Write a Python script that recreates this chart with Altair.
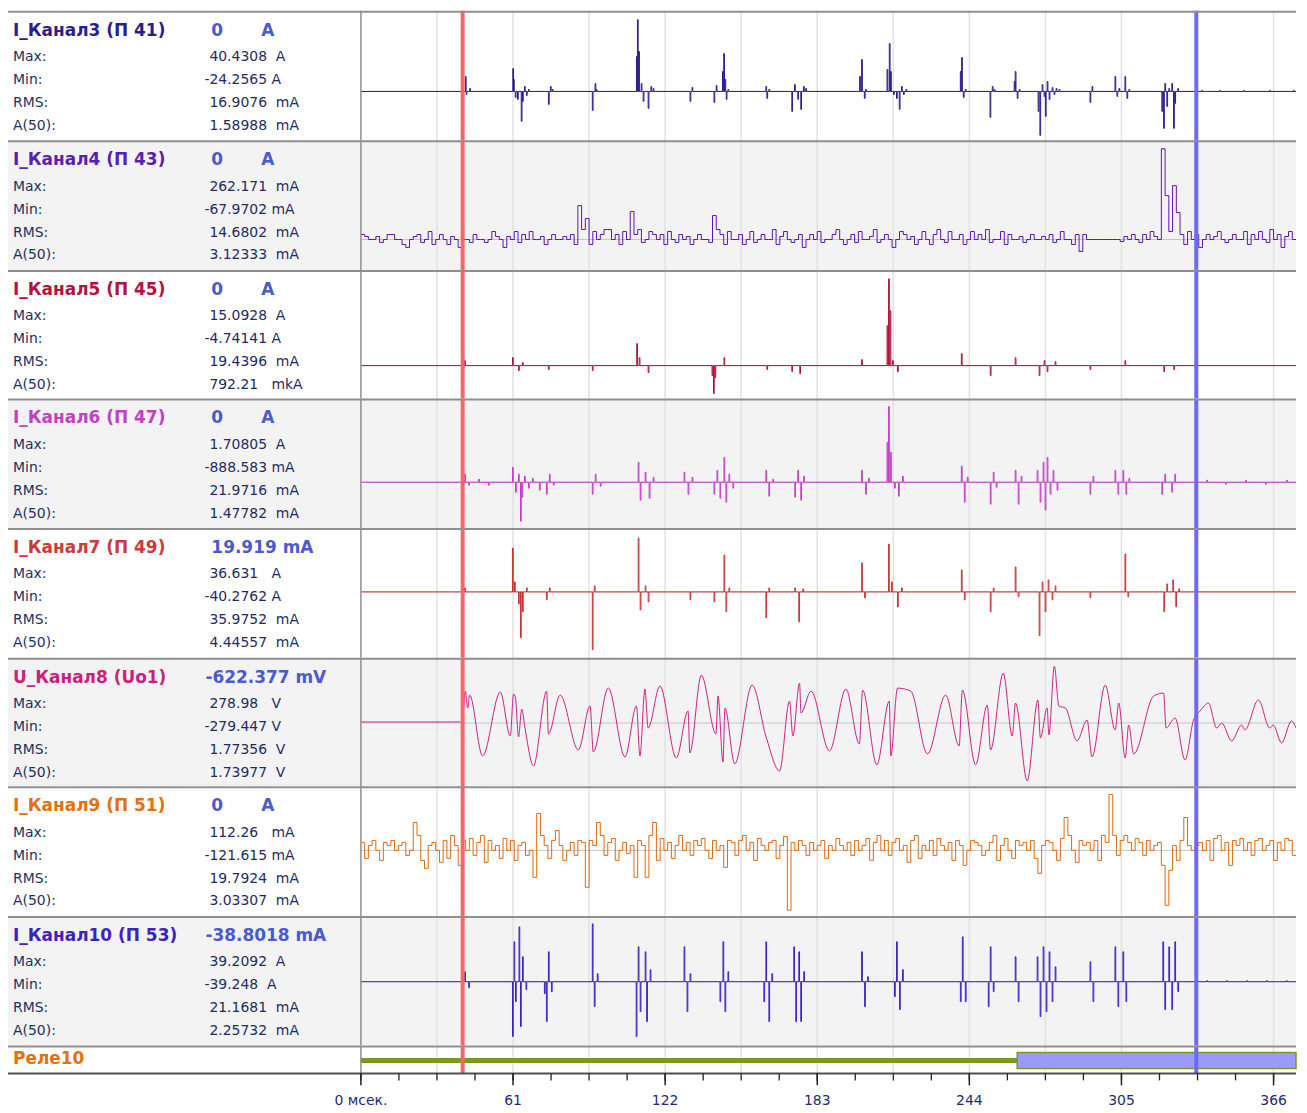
import altair as alt
import pandas as pd

# ---------------- layout constants ----------------
T_MAX = 375.0
W_INFO, W_PLOT, H_RELAY = 354, 938, 28
W_ALL = W_INFO + W_PLOT
H_ROWS = [130, 130, 129, 130, 130, 129, 130, 130]
BASE_OFF = [81, 99.5, 96, 84, 64, 65.5, 64.3, 66]   # zero-line position from panel top
FONT = "DejaVu Sans"

# ---------------- text data ----------------
NAMES = ["I_Канал3 (П 41)", "I_Канал4 (П 43)", "I_Канал5 (П 45)", "I_Канал6 (П 47)",
         "I_Канал7 (П 49)", "U_Канал8 (Uo1)", "I_Канал9 (П 51)", "I_Канал10 (П 53)"]
HEAD_NUM = ["0", "0", "0", "0", "19.919", "-622.377", "0", "-38.8018"]
HEAD_UNIT = ["A", "A", "A", "A", "mA", "mV", "A", "mA"]
STAT_LABELS = ["Max:", "Min:", "RMS:", "A(50):"]
MAX_TXT = ["40.4308  A", "262.171  mA", "15.0928  A", "1.70805  A",
           "36.631   A", "278.98   V", "112.26   mA", "39.2092  A"]
MIN_TXT = ["-24.2565 A", "-67.9702 mA", "-4.74141 A", "-888.583 mA",
           "-40.2762 A", "-279.447 V", "-121.615 mA", "-39.248  A"]
RMS_TXT = ["16.9076  mA", "14.6802  mA", "19.4396  mA", "21.9716  mA",
           "35.9752  mA", "1.77356  V", "19.7924  mA", "21.1681  mA"]
A50_TXT = ["1.58988  mA", "3.12333  mA", "792.21   mkA", "1.47782  mA",
           "4.44557  mA", "1.73977  V", "3.03307  mA", "2.25732  mA"]
RELAY_NAME = "Реле10"

TITLE_COLORS = ["#2b1f8f", "#5b1fb0", "#b5123f", "#c23fc6", "#cc3a3a", "#cf1f7d", "#e4700f", "#3b22c2"]
LINE_COLORS = ["#2a1a8c", "#5a14b8", "#b01038", "#c43ac8", "#c83232", "#d02080", "#e06810", "#3a1ec8"]
BG = ["#ffffff", "#f3f3f3", "#ffffff", "#f3f3f3", "#ffffff", "#f3f3f3", "#ffffff", "#f3f3f3"]

# ---------------- time axis data ----------------
GRID_T = [30.5 * k for k in range(1, 13)]
MINOR_T = [15.25 * k for k in range(0, 25)]
MAJOR_T = [0, 61, 122, 183, 244, 305, 366]
MAJOR_LABELS = ["0 мсек.", "61", "122", "183", "244", "305", "366"]
CURSOR_RED = 40.8
CURSOR_BLUE = 335.0
RELAY_T0 = [0.0, 263.2]
RELAY_T1 = [263.2, 375.0]
RELAY_STATE = [0, 1]

# ---------------- signal data (relative amplitude, time in ms) ----------------
CH3 = [(41.9, 15), (42.2, -3), (43.6, 3),
       (60.9, 23), (61.2, 12), (61.9, -6), (62.8, -8), (64.3, -30), (64.8, -10), (65.6, 5), (66.4, -4), (67.2, 2),
       (75.2, -13), (76.0, 5), (76.8, 2),
       (92.8, -19), (93.9, 8), (94.4, 2),
       (110.5, 35), (110.9, 72), (111.4, 40), (112.4, 8), (113.2, -10), (115.2, -17), (116.3, 5), (117.2, 3),
       (132.0, -10), (132.8, 4),
       (141.6, -11), (142.5, 6), (145.0, 20), (145.5, 38), (146.0, 12), (146.5, -8), (147.2, 2),
       (162.4, 5), (162.8, -7), (163.6, 2),
       (172.8, -20), (173.9, 7), (175.2, -8), (176.4, -18), (177.5, 5), (178.4, 3),
       (200.0, 15), (200.8, 32), (201.9, -7), (202.4, 2),
       (211.0, 22), (211.9, 48), (212.4, 20), (213.6, -3), (214.8, -7), (215.9, -18), (216.8, 5), (217.6, -3), (218.6, 2),
       (240.4, 20), (240.9, 34), (241.6, -6), (242.4, 2),
       (252.3, -26), (253.2, 5), (254.0, 2),
       (262.0, 10), (262.4, 20), (263.2, -7), (264.0, 2),
       (271.6, -20), (272.3, -44), (273.2, 7), (274.0, -5), (274.5, -25), (275.2, 10), (276.0, -8), (277.2, 4),
       (278.0, -3), (278.8, 3), (280.0, 2),
       (292.4, -11), (293.2, 5),
       (302.4, 15), (303.2, -5), (304.0, 3), (306.4, 15), (307.2, -7), (308.0, 2),
       (321.2, -20), (321.9, -37), (322.4, 8), (323.2, -15), (324.0, 3), (325.2, 8), (325.9, -37), (326.4, -12), (327.6, 3),
       (337.2, 1), (344.4, 1), (354.0, 1), (364.4, 1), (374.0, 1)]

CH4_SAMPLES = [
    5, 3, 0, 0, 3, -3, 0, 5, 5, 0, 0, -5, -8, 0, 3, 5, -3, 0, 8, -5,
    0, 5, 0, -5, 3, 0, -8, 0, 0, -3, 5, 0, 0, -3, 0, 8, 3, 0, -8, 3,
    0, 8, -3, 5, 0, 8, 0, 0, 3, -5, 0, 5, 0, 0, 3, 0, 5, -5, 34, 10,
    21, -5, 8, 0, 5, 10, 10, 0, 5, -5, 8, 0, 28, 5, 10, -3, 0, 8, 5, 0,
    5, -5, 8, 0, -3, 5, 0, 3, -5, 0, 5, 0, 0, -3, 24, 10, 5, -5, 8, 0,
    0, 5, -5, 0, 8, -3, 0, 5, 0, 0, 10, -5, 3, 8, 0, -3, 0, 5, -8, 0,
    5, 0, 8, -3, 0, 0, 5, 10, 0, -5, 0, 5, -3, 8, 0, 0, 3, 10, -3, 0,
    5, 0, -8, 0, 8, 5, 0, 3, -5, 0, 8, 0, -5, 5, 10, 0, -3, 8, 0, 0,
    5, -5, 0, 8, 0, 5, 0, 10, -3, 0, 0, 8, -5, 5, 0, 0, 3, -3, 0, 5,
    0, 0, 3, 0, 5, -3, 0, 8, 0, 0, -5, 5, -12, 5, 0, 0, 0, 0, 0, 0,
    0, 0, 0, -2, 3, 0, 5, 0, -3, 5, 0, 8, 3, 0, 91, 44, 8, 54, 27, 5,
    -5, 8, 0, 5, -8, 0, 5, 0, 3, 8, 0, -3, 0, 5, 0, 0, 8, -5, 5, 0,
    8, 0, -3, 10, 0, 5, -8, 3, 8, 0]

CH5 = [(41.6, 5), (60.8, 8), (63.2, -5), (64.8, 3), (75.2, -4), (92.8, -5),
       (110.6, 22), (111.6, 8), (115.2, -7),
       (140.8, -10), (141.4, -28), (142.0, -12), (145.6, 8),
       (162.8, -4), (172.8, -6), (176.0, -8), (200.8, 6),
       (211.0, 40), (211.6, 87), (212.2, 55), (213.2, 5), (215.2, -6),
       (240.8, 12), (252.4, -10), (262.4, 8), (272.0, -10), (274.0, 5), (275.2, -6), (278.4, 4),
       (292.4, -4), (306.4, 5), (322.0, -6), (326.0, -4)]

CH6 = [(41.6, 8), (43.2, -3), (47.2, 3), (51.2, -3),
       (60.8, 15), (62.0, -10), (63.2, 8), (64.0, -39), (64.6, -15), (65.6, 6), (67.2, -6), (68.8, 4),
       (71.6, -8), (74.4, -12), (75.6, 8), (77.2, -3),
       (92.8, -12), (94.0, 8), (96.0, -4),
       (111.2, 20), (112.0, -18), (114.0, 10), (115.6, -16), (117.2, 5),
       (129.6, 10), (131.2, -12), (132.8, 5),
       (141.6, -12), (142.8, 12), (144.0, -16), (145.6, 25), (146.4, -20), (147.6, 8), (149.2, -6),
       (162.4, 12), (163.6, -14), (165.2, 3),
       (174.0, -15), (175.2, 12), (176.4, -18), (177.6, 6),
       (200.8, 12), (202.4, -12), (203.6, 4),
       (211.0, 40), (211.6, 76), (212.4, 30), (214.0, -6), (215.6, -14), (217.2, 6),
       (240.8, 16), (242.0, -20), (243.2, 5),
       (252.4, -22), (253.6, 10), (254.8, -5),
       (262.4, 12), (263.6, -22), (264.8, 6),
       (271.2, 12), (272.4, -20), (273.6, 20), (274.4, -28), (275.2, 25), (276.4, -12), (277.6, 12), (279.2, -8),
       (292.4, -12), (293.6, 6),
       (302.4, 12), (303.6, -12), (305.6, 12), (306.8, -12), (308.0, 4),
       (321.2, -12), (322.4, 8), (325.2, -10), (326.4, 8),
       (339.2, 2), (346.8, -2), (354.8, 2), (362.8, -2), (371.2, 2)]

CH7 = [(41.6, 4),
       (60.8, 44), (61.6, 10), (63.2, -12), (64.0, -46), (64.8, -20), (66.4, 4),
       (74.4, -8), (75.6, 4), (92.8, -58), (93.6, 6),
       (111.2, 54), (112.0, -18), (114.0, 6), (115.2, -10), (132.0, -8),
       (141.6, -10), (145.6, 37), (146.4, -20), (147.6, 4),
       (162.4, -26), (163.6, 4), (174.0, 4), (175.6, -30), (177.2, 3),
       (200.8, 29), (202.0, -6), (211.6, 48), (212.8, 10), (215.2, -15), (216.8, 4),
       (240.8, 22), (242.0, -8), (252.4, -20), (253.6, 4), (262.4, 25), (263.6, -5),
       (272.0, -44), (273.2, 10), (274.4, -20), (275.6, 12), (277.2, -8), (278.4, 6),
       (292.4, -6), (306.4, 38), (307.6, -5),
       (322.0, -20), (323.2, 8), (325.6, 12), (326.8, -15), (328.0, 3)]

CH8 = [(0.0, 1), (40.6, 1),
       (41.9, 32), (42.8, 15), (43.6, 28), (48.8, -33), (55.9, 31), (59.9, -13), (61.2, 29), (62.0, 25),
       (63.2, -14), (64.5, 14), (65.8, -5), (69.2, -43), (74.5, 32), (75.2, -11), (79.9, 28), (87.2, -27),
       (91.9, 17), (93.2, -29), (99.2, 35), (105.9, -34), (110.5, 17), (111.9, -33), (113.9, 34), (115.2, -5),
       (119.9, 37), (126.5, -35), (131.2, 12), (131.9, -30), (136.5, 48), (142.4, -11), (143.2, 27),
       (145.2, -39), (146.0, 15), (149.9, -41), (156.9, 38), (162.5, -14), (167.9, -48), (171.9, 22),
       (173.2, -13), (175.9, 40), (176.5, 10), (180.5, 32), (187.9, -28), (194.5, 34), (199.9, -21),
       (201.2, 33), (206.9, -42), (211.9, 22), (212.5, -33), (215.2, 35), (220.5, 32), (227.2, -31),
       (234.5, 28), (239.9, -23), (241.2, 33), (246.5, -42), (251.2, 18), (252.5, -27), (257.6, 50),
       (261.2, -13), (262.5, 20), (267.2, -58), (271.5, 23), (272.5, -15), (275.2, 15), (275.9, -12),
       (278.1, 57), (279.9, 17), (282.5, 15), (287.2, -18), (291.2, 3), (293.2, -34), (298.5, 38),
       (302.5, -7), (303.9, 20), (306.5, -35), (307.9, -2), (309.9, -31), (317.9, 27), (321.9, 30),
       (322.9, -5), (326.5, 5), (330.5, -37), (333.9, 3), (336.5, 12), (339.9, 20), (343.2, -5),
       (345.2, 0), (349.2, -18), (353.2, -2), (354.5, -7), (359.9, 23), (364.5, -5), (365.9, -2),
       (369.2, -20), (373.2, 2), (375.0, -5)]

CH9_SAMPLES = [
    8, -8, 5, 10, 0, -10, 8, 5, 10, 0, 5, 8, -5, 0, 28, 15, -10, -18, 5, 8,
    0, -12, 10, -8, 15, 5, -15, 10, 0, 12, -5, 8, 15, -12, 10, 0, 5, -8, 12, 0,
    10, -10, 5, 8, -5, 0, -27, 37, 15, 5, -8, 10, 20, 5, -10, 0, 8, -5, 10, 8,
    -37, 10, 5, 28, 15, -5, 8, 12, -10, 0, 8, -3, 5, -27, 10, 5, -27, 15, 28, -10,
    12, 0, 8, -8, 5, 15, 0, 8, -5, 10, 5, 12, 0, -8, 10, 0, 5, -17, 10, 8,
    -5, 10, 15, 0, 8, -10, 12, 5, 0, 8, 10, -8, 5, 14, -60, 8, 0, 10, 5, -5,
    8, 0, 5, 10, -8, 5, 0, 12, 5, 0, 8, -5, 10, 0, 5, 12, -10, 8, 15, 0,
    10, -5, 8, 12, 0, 5, -12, 10, 15, -8, 5, 0, 10, -5, 12, 5, 0, 8, -10, 10,
    5, -15, 0, 10, 8, 5, -5, 0, 8, 15, -10, 5, 12, 0, -8, 10, 5, 8, 0, 10,
    -8, -23, 5, 10, 8, 0, -10, 12, 33, 15, 0, -12, 10, 5, 8, 0, 10, -10, 15, 8,
    56, 15, -5, 10, 15, 8, 0, 12, 8, -5, 10, 0, 5, 8, -15, -55, -20, 5, -10, 10,
    33, 5, 0, 5, 8, 0, 10, -10, 12, 15, 0, 8, -15, 10, 5, 12, 0, 8, -5, 10,
    12, 0, 5, 10, -10, 8, 0, 12, 10, -5]
SAMPLE_MS = 1.5

CH10 = [(41.6, 10), (43.2, -6),
        (60.8, -55), (61.4, 40), (62.0, -20), (63.4, 55), (64.0, -45), (64.8, 25), (66.2, -8),
        (73.6, -12), (74.4, -40), (75.2, 30), (76.4, -10),
        (92.8, 58), (93.6, -25), (94.8, 8),
        (110.4, -55), (111.2, 35), (112.0, -30), (114.0, 30), (114.6, -40), (116.0, 12),
        (129.6, 35), (130.8, -30), (132.0, 8),
        (144.0, -20), (145.2, 40), (146.0, -30), (147.2, 10),
        (161.6, -20), (162.4, 40), (163.6, -40), (164.8, 8),
        (173.6, 35), (174.4, -40), (175.6, 30), (176.4, -40), (177.6, 10),
        (200.8, 30), (202.0, -25), (203.2, 5),
        (214.0, -15), (214.8, 40), (216.0, -28), (217.2, 12),
        (240.4, -20), (241.2, 45), (242.4, -20),
        (251.6, -25), (252.4, 35), (253.6, -10),
        (262.4, 25), (263.6, -20),
        (271.2, 25), (272.4, -35), (273.6, 35), (274.8, -30), (276.0, 30), (277.2, -20), (278.4, 15),
        (292.4, 20), (293.6, -20),
        (302.4, 35), (303.6, -25), (305.6, 30), (306.8, -20),
        (321.6, 40), (322.4, -28), (324.0, 35), (325.2, -28), (326.4, 40), (327.6, -10),
        (339.2, 1), (347.2, 1), (355.2, 1), (363.2, 1), (371.2, 1)]


def spike_series(spikes, width=0.3):
    pairs = sorted(spikes)
    ts, vs = [0.0], [0.0]
    for i, (t, v) in enumerate(pairs):
        ts.append(t)
        vs.append(v)
        nxt = pairs[i + 1][0] if i + 1 < len(pairs) else T_MAX
        if t + width < nxt:
            ts.append(t + width)
            vs.append(0.0)
    ts.append(T_MAX)
    vs.append(0.0)
    return pd.DataFrame({"t": ts, "v": vs})


def sampled_series(samples, step):
    ts = [i * step for i in range(len(samples))] + [T_MAX]
    vs = list(samples) + [samples[-1]]
    return pd.DataFrame({"t": ts, "v": vs})


def point_series(points):
    return pd.DataFrame({"t": [p[0] for p in points], "v": [p[1] for p in points]})


SERIES = [
    (spike_series(CH3), "step-after"),
    (sampled_series(CH4_SAMPLES, SAMPLE_MS), "step-after"),
    (spike_series(CH5), "step-after"),
    (spike_series(CH6), "step-after"),
    (spike_series(CH7), "step-after"),
    (point_series(CH8), "monotone"),
    (sampled_series(CH9_SAMPLES, SAMPLE_MS), "step-after"),
    (spike_series(CH10), "step-after"),
]

# ---------------- styling ----------------
SEP = "#8f8f8f"
LABEL_COLOR = "#23305e"
VALUE_COLOR = "#1f2a66"
HEAD_COLOR = "#4a5ad0"
GRID_COLOR = "#e2e2e2"
RED = "#ff6464"
BLUE = "#6a6aff"

DUMMY = pd.DataFrame({"d": [0]})
GRID_DF = pd.DataFrame({"t": GRID_T})
RED_DF = pd.DataFrame({"t": [CURSOR_RED]})
BLUE_DF = pd.DataFrame({"t": [CURSOR_BLUE]})
ZERO_DF = pd.DataFrame({"v": [0.0]})
MINOR_DF = pd.DataFrame({"t": MINOR_T})
MAJOR_DF = pd.DataFrame({"t": MAJOR_T, "label": MAJOR_LABELS})

XSC = alt.Scale(domain=[0, T_MAX], range=[W_INFO, W_ALL], nice=False, zero=False)


def nb(s):
    return s.replace(" ", "\u00a0")


def txt(s, x, y, size=14, bold=False, color=VALUE_COLOR):
    return alt.Chart(DUMMY).mark_text(
        align="left", baseline="middle", font=FONT, fontSize=size,
        fontWeight="bold" if bold else "normal", color=color
    ).encode(x=alt.value(x), y=alt.value(y), text=alt.value(nb(s)))


def vband(df, color, width, y0, y1):
    # a vertical line drawn as a thin filled rect (exact bounds)
    return alt.Chart(df).mark_rect(color=color, xOffset=-width / 2, x2Offset=width / 2).encode(
        x=alt.X("t:Q", scale=XSC, axis=None), x2="t:Q", y=alt.value(y0), y2=alt.value(y1))


def hband(color, x0, x1, y0, y1):
    return alt.Chart(DUMMY).mark_rect(color=color).encode(
        x=alt.value(x0), x2=alt.value(x1), y=alt.value(y0), y2=alt.value(y1))


def back_layers(fill, height):
    return [hband(fill, 0, W_ALL, 0, height), vband(GRID_DF, GRID_COLOR, 1.5, 0, height)]


def front_layers(height):
    return [vband(RED_DF, RED, 4, 0, height),
            vband(BLUE_DF, BLUE, 4, 0, height),
            hband(SEP, 0, W_ALL, 0, 2),
            hband(SEP, W_INFO - 0.75, W_INFO + 0.75, 0, height)]


def panel(k):
    df, interp = SERIES[k]
    h = H_ROWS[k]
    off = BASE_OFF[k]
    ysc = alt.Scale(domain=[-(h - off), off], nice=False, zero=False)
    zero = alt.Chart(ZERO_DF).mark_rule(color="#c6c6c6", strokeWidth=1).encode(
        x=alt.value(W_INFO), x2=alt.value(W_ALL), y=alt.Y("v:Q", scale=ysc, axis=None))
    line = alt.Chart(df).mark_line(color=LINE_COLORS[k], strokeWidth=1.0, interpolate=interp, clip=True).encode(
        x=alt.X("t:Q", scale=XSC, axis=None),
        y=alt.Y("v:Q", scale=ysc, axis=None),
    )
    texts = [txt(NAMES[k], 5, 20, size=17, bold=True, color=TITLE_COLORS[k])]
    num = HEAD_NUM[k]
    hx = 198 if num.startswith("-") else 204
    if num == "0":
        texts.append(txt(num, hx, 20, size=17, bold=True, color=HEAD_COLOR))
        texts.append(txt(HEAD_UNIT[k], 254, 20, size=17, bold=True, color=HEAD_COLOR))
    else:
        texts.append(txt(num + " " + HEAD_UNIT[k], hx, 20, size=17, bold=True, color=HEAD_COLOR))
    vals = [MAX_TXT[k], MIN_TXT[k], RMS_TXT[k], A50_TXT[k]]
    for r, (lab, val) in enumerate(zip(STAT_LABELS, vals)):
        y = 46.5 + 23 * r
        texts.append(txt(lab, 5, y, color=LABEL_COLOR))
        vx = 197 if val.startswith("-") else 202
        texts.append(txt(val, vx, y, color=VALUE_COLOR))
    layers = back_layers(BG[k], h) + [zero, line] + texts + front_layers(h)
    return alt.layer(*layers).properties(width=W_ALL, height=h)


def relay_row():
    relay_df = pd.DataFrame({"t": RELAY_T0, "t1": RELAY_T1, "state": RELAY_STATE})
    off = alt.Chart(relay_df).transform_filter("datum.state == 0").mark_rect(color="#7a9a1a").encode(
        x=alt.X("t:Q", scale=XSC, axis=None), x2="t1:Q", y=alt.value(12.5), y2=alt.value(17.5))
    on = alt.Chart(relay_df).transform_filter("datum.state == 1").mark_rect(
        fill="#9b9bff", stroke="#7a9a1a", strokeWidth=1.5).encode(
        x=alt.X("t:Q", scale=XSC, axis=None), x2="t1:Q", y=alt.value(7), y2=alt.value(23))
    minors = vband(MINOR_DF, "#222222", 1.3, H_RELAY, H_RELAY + 7)
    majors = vband(MAJOR_DF, "#222222", 1.5, H_RELAY, H_RELAY + 12)
    labels = alt.Chart(MAJOR_DF).mark_text(
        align="center", baseline="middle", font=FONT, fontSize=14, color="#1f2a78"
    ).encode(x=alt.X("t:Q", scale=XSC, axis=None), y=alt.value(H_RELAY + 28), text="label:N")
    bottom = hband("#505050", 0, W_ALL, H_RELAY - 1, H_RELAY + 1)
    name = txt(RELAY_NAME, 5, 14, size=17, bold=True, color="#e4700f")
    layers = back_layers("#ffffff", H_RELAY) + [off, on, name] + front_layers(H_RELAY) + [bottom, minors, majors, labels]
    return alt.layer(*layers).properties(width=W_ALL, height=H_RELAY)


chart = alt.vconcat(*[panel(k) for k in range(8)], relay_row(), spacing=0).properties(
    padding={"left": 0, "top": 1, "right": 2, "bottom": 2},
    background="#ffffff",
).configure_view(strokeWidth=0, strokeOpacity=0)

chart.save("out.html", embed_options={"renderer": "svg", "actions": False})
